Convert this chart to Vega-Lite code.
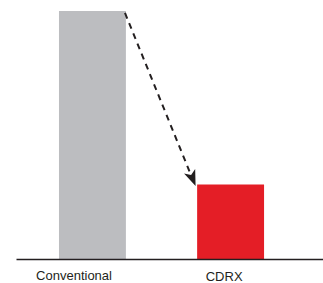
{
  "$schema": "https://vega.github.io/schema/vega-lite/v6.json",
  "width": 307,
  "height": 248,
  "autosize": "none",
  "padding": {"left": 16, "right": 0, "top": 11, "bottom": 24},
  "background": "white",
  "config": {"view": {"stroke": null}},
  "datasets": {
    "bars": [
      {"group": "Conventional", "x0": 1.40, "x1": 3.58, "value": 100, "base": 0, "labelx": 1.89, "labely": -8.3},
      {"group": "CDRX", "x0": 5.90, "x1": 8.08, "value": 30, "base": 0, "labelx": 6.78, "labely": -8.9}
    ],
    "arrow": [
      {"pos": 0, "x": 3.55, "y": 99.2},
      {"pos": 1, "x": 5.82, "y": 30.2}
    ],
    "head": [
      {"x": 5.85, "y": 29.4}
    ]
  },
  "layer": [
    {
      "data": {"name": "bars"},
      "mark": {"type": "rect", "clip": false},
      "encoding": {
        "x": {"field": "x0", "type": "quantitative", "scale": {"domain": [0, 10], "nice": false, "zero": false},
              "axis": {"labels": false, "ticks": false, "grid": false, "title": null, "domainColor": "#231F20", "domainWidth": 1.5, "zindex": 1}},
        "x2": {"field": "x1"},
        "y": {"field": "value", "type": "quantitative", "scale": {"domain": [0, 100], "nice": false}, "axis": null},
        "y2": {"field": "base"},
        "color": {"field": "group", "type": "nominal", "scale": {"domain": ["Conventional", "CDRX"], "range": ["#BCBDC0", "#E41E26"]}, "legend": null}
      }
    },
    {
      "data": {"name": "bars"},
      "mark": {"type": "text", "font": "Liberation Sans", "fontSize": 13, "color": "#231F20", "baseline": "alphabetic", "align": "center", "clip": false},
      "encoding": {
        "x": {"field": "labelx", "type": "quantitative"},
        "y": {"field": "labely", "type": "quantitative"},
        "text": {"field": "group"}
      }
    },
    {
      "data": {"name": "arrow"},
      "mark": {"type": "line", "color": "#231F20", "strokeWidth": 2, "strokeDash": [6, 5]},
      "encoding": {
        "x": {"field": "x", "type": "quantitative"},
        "y": {"field": "y", "type": "quantitative"},
        "order": {"field": "pos"}
      }
    },
    {
      "data": {"name": "head"},
      "mark": {"type": "point", "shape": "M0,0L-0.6,-1.6L0,-1.2L0.6,-1.6Z", "size": 400, "filled": true, "color": "#231F20", "opacity": 1, "strokeWidth": 0, "angle": 338},
      "encoding": {
        "x": {"field": "x", "type": "quantitative"},
        "y": {"field": "y", "type": "quantitative"}
      }
    }
  ]
}
